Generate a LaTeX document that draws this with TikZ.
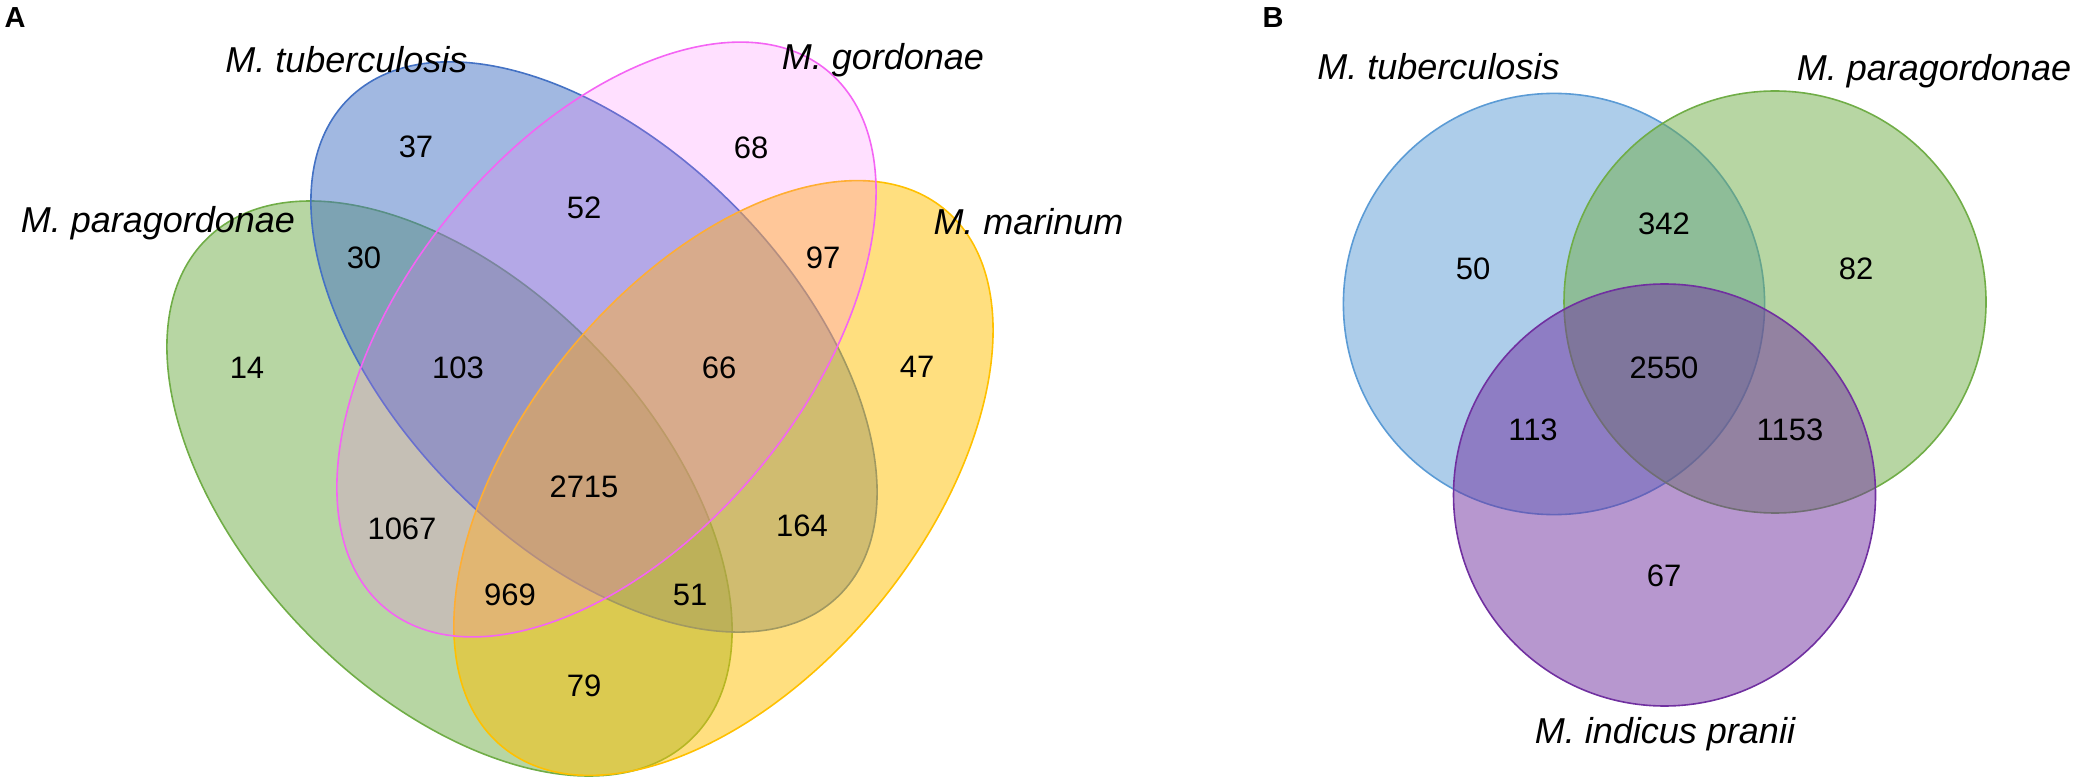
\documentclass[tikz,border=0pt]{standalone}
\usepackage{fontspec}
\setmainfont{Liberation Sans}
\definecolor{gA}{HTML}{70AD47}
\definecolor{bA}{HTML}{4472C4}
\definecolor{pAfill}{HTML}{FF66FF}
\definecolor{pAline}{HTML}{F464F4}
\definecolor{yA}{HTML}{FFC000}
\definecolor{bB}{HTML}{5B9BD5}
\definecolor{vB}{HTML}{7030A0}
\tikzset{
  setshape/.style={line width=0.8pt, fill opacity=0.5},
  num/.style={font=\fontsize{15.5}{18}\selectfont, inner sep=0pt},
  lab/.style={font=\fontsize{18}{21}\selectfont\itshape, inner sep=0pt, anchor=base},
  panel/.style={font=\fontsize{14.5}{17}\selectfont\bfseries, inner sep=0pt}
}
\begin{document}
\begin{tikzpicture}[x=0.5pt,y=-0.5pt]
\useasboundingbox (0,0) rectangle (2077,780);
% ---------- Panel A ----------
\coordinate (cG) at (449.5,488.5);
\coordinate (cP) at (606.5,339.5);
\coordinate (cB) at (594,347);
\coordinate (cY) at (723.5,478);
\draw[setshape, draw=gA, fill=gA, rotate around={-46:(cG)}] (cG) ellipse [x radius=174.1pt, y radius=101.5pt];
\draw[setshape, draw=bA, fill=bA, rotate around={-45.4:(cB)}] (cB) ellipse [x radius=174.5pt, y radius=99.5pt];
\draw[setshape, draw=yA, fill=yA, rotate around={50.6:(cY)}] (cY) ellipse [x radius=174pt, y radius=100pt];
\draw[setshape, fill opacity=0.2, draw=pAline, fill=pAfill, rotate around={50.6:(cP)}] (cP) ellipse [x radius=174pt, y radius=100pt];

\node[panel] (pa) at (15,18) {A};
\node[lab] (ltb) at (346.5,73) {M. tuberculosis};
\node[lab] (lgo) at (883,70) {M. gordonae};
\node[lab] (lpa) at (158,233) {M. paragordonae};
\node[lab] (lma) at (1028.5,235) {M. marinum};

\node[num] (n37) at (416,147) {37};
\node[num] (n68) at (751,148) {68};
\node[num] (n52) at (584,208) {52};
\node[num] (n30) at (364,258) {30};
\node[num] (n97) at (823,258) {97};
\node[num] (n14) at (247,368) {14};
\node[num] (n103) at (458,368) {103};
\node[num] (n66) at (719,368) {66};
\node[num] (n47) at (917,367) {47};
\node[num] (n2715) at (584,487) {2715};
\node[num] (n1067) at (402,529) {1067};
\node[num] (n164) at (802,526) {164};
\node[num] (n969) at (510,595) {969};
\node[num] (n51) at (690,595) {51};
\node[num] (n79) at (584,686) {79};

% ---------- Panel B ----------
\coordinate (cBT) at (1554,304);
\coordinate (cBP) at (1775,302);
\coordinate (cBI) at (1664.5,495);
\draw[setshape, draw=bB, fill=bB] (cBT) circle [radius=105.3pt];
\draw[setshape, draw=gA, fill=gA] (cBP) circle [radius=105.5pt];
\draw[setshape, draw=vB, fill=vB] (cBI) circle [radius=105.5pt];

\node[panel] (pb) at (1273,18) {B};
\node[lab] (btb) at (1438.5,80) {M. tuberculosis};
\node[lab] (bpa) at (1934,81) {M. paragordonae};
\node[lab] (bip) at (1665,743) {M. indicus pranii};

\node[num] (b50) at (1473,269) {50};
\node[num] (b342) at (1664,224) {342};
\node[num] (b82) at (1856,269) {82};
\node[num] (b2550) at (1664,368) {2550};
\node[num] (b113) at (1533,430) {113};
\node[num] (b1153) at (1790,430) {1153};
\node[num] (b67) at (1664,576) {67};
\end{tikzpicture}
\end{document}
